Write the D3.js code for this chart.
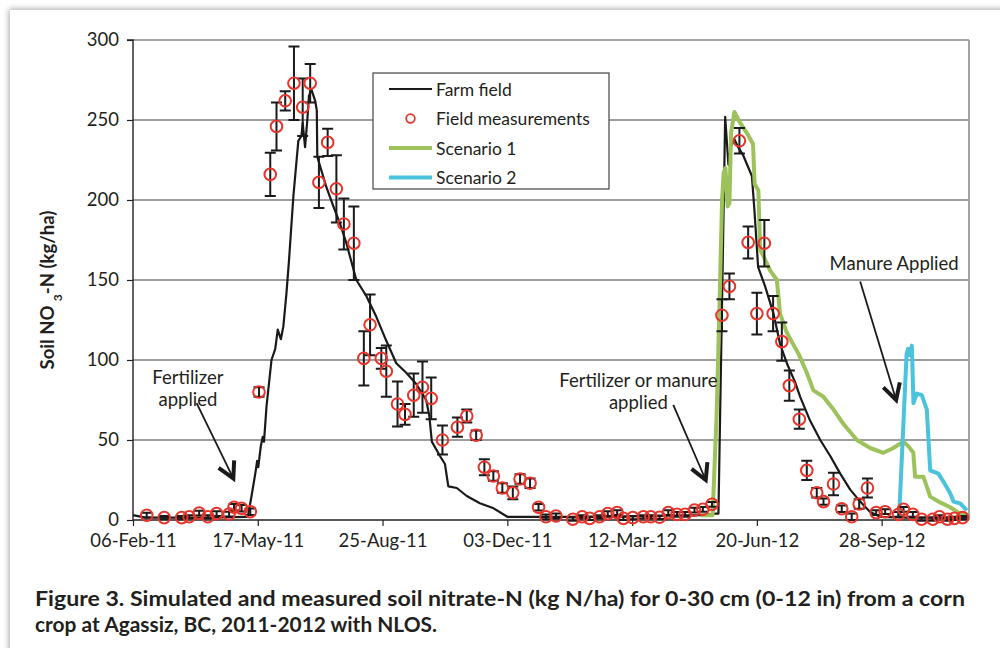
<!DOCTYPE html>
<html>
<head>
<meta charset="utf-8">
<script src="https://d3js.org/d3.v7.min.js"></script>
<style>
  body { margin: 0; background: #fff; overflow: hidden; }
  #card {
    position: absolute; left: 10px; top: 10px;
    width: 1100px; height: 700px; background: #fff;
    box-shadow: -1px -1px 6px rgba(0,0,0,0.35);
  }
  svg { position: absolute; left: 0; top: 0; font-family: Lato, sans-serif; }
</style>
</head>
<body>
<div id="card"></div>
<svg width="1000" height="648"></svg>
<script>

// days are counted from 06-Feb-11
var xTickLabels = ["06-Feb-11", "17-May-11", "25-Aug-11", "03-Dec-11", "12-Mar-12", "20-Jun-12", "28-Sep-12"];
var yTicks = [0, 50, 100, 150, 200, 250, 300];

var farmField = [
  [0,3],[10,1.5],[60,1.5],[90,2],[92,2],[95,15],[98,29],[99.5,37],[100.4,33],[102.4,46],
  [104,52],[105,49],[107,71],[111,100],[114,107],[116,119],[118.5,113],[120.5,121],[123,142],
  [125,162],[128.5,202],[132.5,237],[135,240],[136,248],[137.9,233],[139.7,250],[141,265],
  [143,269],[146,262],[147.3,256],[147.7,227],[150,221],[155,208],[160.6,196],[166,185],
  [171,173],[179,150],[187,140],[195,127],[203,112],[211,98],[219,92],[227,85],[235,75],
  [237.5,65],[239.5,49],[246,40],[250,35],[252.7,21],[259.5,20],[267.5,15],[278,10.5],
  [289,7.3],[300,2],[324,2],[374,2],[455,3],[467,4],[469.2,4],[474.6,252],[477.2,222],
  [479,233],[482,238],[485,233],[489,228],[496,215],[498,194],[501,158],[506.6,146],
  [513.3,129],[518.6,110],[524,98],[530.7,86],[534.7,77],[542.7,62],[550.8,50],[558.8,40],
  [566.8,29],[574.8,19],[582.8,11.5],[590.8,5],[598.8,2],[620,1.5],[669,1.5]
];

// [day, value, +/- error]
var measurements = [
  [11,3,1.5],[25,1.5,1],[39,1.5,1],[45,2,1],[53,4.3,1.5],[60,2,1],[67,4,1.5],[77,3.7,1.5],
  [81,8,2],[87,7.3,2],[94,5.2,2],[101,80,3],[110,216,13.5],[115,246,15],[122,262,6],
  [129,273,23],[136,258,18],[142,273,12],[149,211,16],[156,236,8.5],[163,207,21],[169,185,16],
  [177,173,23],[185,101,17],[190,122,19],[199,101,6.5],[203,93,16],[212,72.5,14],[218,66,6.5],
  [225,78,13.5],[232,83,16],[239,76,13],[248,50,9],[260,58,6],[267.5,65,4],[275,53,3],
  [281.6,33,5],[288.8,27.5,3],[296,20,3],[304.4,17,4],[310.2,25.6,3],[318.2,23,3],[325,8,2],
  [331,2,1.5],[339,2.5,1.5],[352.5,0.5,1],[360,2,1],[366,1,1],[374,2,1],[380.5,4,1.5],
  [388,4.6,1.5],[393,1,1],[400.6,1.5,1],[409,2,1],[415,2,1],[422,1.7,1],[429,4.6,1.5],
  [436,3.5,1.5],[442.5,3.5,1.5],[450,6.2,1.5],[456.7,6.7,1.5],[464,9.8,1.5],[472,128,10],
  [478,146,8],[486,237,8],[493,173.5,10],[500,129,13],[506,173,14.5],[513,129,11],
  [520,111.5,12],[526,84,9.5],[534,63,6],[540,31,6],[548,17,3],[553.4,11.5,2],[561.4,22.5,7],
  [568,7,2],[576,2,2],[582,10,3],[588.6,20,6],[595.6,4.6,1.5],[602.8,5.2,1.5],[613.5,3.5,1.5],
  [617.5,6.7,1.5],[625,3.5,1.5],[632,0.5,1],[641,0.5,1],[646.3,2,1],[652.7,0.5,1],
  [658.3,1,1],[664.8,1.5,1]
];

var scenario1 = [
  [455,3],[464.5,3],[467.7,65],[469.9,129],[472.1,200],[473.4,217],[474.8,220],[476.6,196],
  [478,198],[479.3,242],[482,255],[486,249],[491.9,242],[496.9,235],[498.2,210],[501.2,206],
  [502.6,169],[505.2,165],[510.6,156],[516,150],[518.6,129],[524,117],[533.3,104],[540,92],
  [545.3,81],[553.3,77],[561.4,69],[569.4,60],[580.1,50],[590.8,45],[601.4,42],[609.4,45],
  [617.5,49],[621.5,46],[625.4,42],[626.8,27],[633.5,27],[638.9,14.6],[646.9,11],[654.9,8],
  [662.9,4],[669.3,3]
];

var scenario2 = [
  [614,2],[620,104],[621.2,107],[622.6,103],[624.2,109],[625.5,73],[628.2,79],[632.2,78],
  [636.2,69],[638.9,31],[645.5,29],[649.5,24],[654.9,16.7],[657.6,11.5],[662.9,10.4],[668.3,6]
];

var legendItems = ["Farm field", "Field measurements", "Scenario 1", "Scenario 2"];

// annotation text and arrows, in [day, value]
var notes = [
  {lines: ["Fertilizer", "applied"], at: [44, 85], from: [51, 73], to: [80.4, 26]},
  {lines: ["Fertilizer or manure", "applied"], at: [405, 83], from: [433, 72], to: [459, 25]},
  {lines: ["Manure Applied"], at: [610, 156], from: [582.8, 149], to: [611.6, 75]}
];

var caption = ["Figure 3. Simulated and measured soil nitrate-N (kg N/ha) for 0-30 cm (0-12 in) from a corn",
               "crop at Agassiz, BC, 2011-2012 with NLOS."];

var svg = d3.select("svg"),
    margin = {top: 40, left: 133, right: 969, bottom: 520};

var parse = d3.utcParse("%d-%b-%y");
var start = parse(xTickLabels[0]);
var day = d => start.getTime() + d * 864e5;

var x = d3.scaleUtc()
    .domain([start, new Date(day(670))])
    .range([margin.left, margin.right]);

var y = d3.scaleLinear()
    .domain([0, 300])
    .range([margin.bottom, margin.top]);

var X = d => x(new Date(day(d)));

var green = "#9dc15b", cyan = "#4cc3dc", red = "#e8342b", ink = "#231f20";

//
// grid and frame
//

svg.append("g")
    .selectAll("line")
    .data(yTicks.slice(1, -1))
    .enter().append("line")
    .attr("x1", margin.left).attr("x2", margin.right)
    .attr("y1", d => y(d)).attr("y2", d => y(d))
    .attr("stroke", "#3c3c3c").attr("stroke-width", 1);

svg.append("line")
    .attr("x1", margin.left).attr("x2", margin.right)
    .attr("y1", y(300)).attr("y2", y(300))
    .attr("stroke", "#a3a3a3").attr("stroke-width", 2);

svg.append("line")
    .attr("x1", margin.right).attr("x2", margin.right)
    .attr("y1", y(300)).attr("y2", y(0))
    .attr("stroke", "#a3a3a3").attr("stroke-width", 2);

//
// axes
//

var yAxis = svg.append("g")
    .attr("transform", "translate(" + margin.left + ",0)")
    .call(d3.axisLeft(y).tickValues(yTicks).tickSize(6).tickPadding(8));

var xAxis = svg.append("g")
    .attr("transform", "translate(0," + margin.bottom + ")")
    .call(d3.axisBottom(x)
        .tickValues(xTickLabels.map(parse))
        .tickFormat(d3.utcFormat("%d-%b-%y"))
        .tickSize(6).tickPadding(8));

svg.selectAll(".domain").attr("stroke", "#222").attr("stroke-width", 1.4);
svg.selectAll(".tick line").attr("stroke", "#222").attr("stroke-width", 1.2);
svg.selectAll(".tick text")
    .attr("fill", ink)
    .style("font-family", "Lato, sans-serif")
    .style("font-size", "18.5px");

yAxis.select(".domain").attr("d", "M-6," + y(300) + "H0V" + y(0));
xAxis.select(".domain").attr("d", "M" + margin.left + ",0H" + margin.right);

svg.append("text")
    .attr("transform", "translate(54,290) rotate(-90)")
    .attr("text-anchor", "middle")
    .attr("fill", ink)
    .style("font-size", "18.5px")
    .style("font-weight", "bold")
    .call(t => {
        t.append("tspan").text("Soil NO ");
        t.append("tspan").text("3").attr("baseline-shift", "sub").style("font-size", "12px");
        t.append("tspan").text("-N (kg/ha)");
    });

//
// series
//

var line = d3.line().x(d => X(d[0])).y(d => y(d[1]));

svg.append("path")
    .datum(farmField)
    .attr("d", line)
    .attr("fill", "none")
    .attr("stroke", "#1a1a1a")
    .attr("stroke-width", 2.2)
    .attr("stroke-linejoin", "round");

svg.append("path")
    .datum(scenario1)
    .attr("d", line)
    .attr("fill", "none")
    .attr("stroke", green)
    .attr("stroke-width", 4)
    .attr("stroke-linejoin", "round");

svg.append("path")
    .datum(scenario2)
    .attr("d", line)
    .attr("fill", "none")
    .attr("stroke", cyan)
    .attr("stroke-width", 4)
    .attr("stroke-linejoin", "round");

svg.append("g")
    .attr("stroke", "#1a1a1a")
    .attr("stroke-width", 2)
    .selectAll("path")
    .data(measurements)
    .enter().append("path")
    .attr("fill", "none")
    .attr("d", d => {
        var cx = X(d[0]), t = y(d[1] + d[2]), b = y(d[1] - d[2]);
        return "M" + cx + "," + t + "V" + b +
               "M" + (cx - 5.5) + "," + t + "h11" +
               "M" + (cx - 5.5) + "," + b + "h11";
    });

svg.append("g")
    .selectAll("circle")
    .data(measurements)
    .enter().append("circle")
    .attr("cx", d => X(d[0]))
    .attr("cy", d => y(d[1]))
    .attr("r", 5.8)
    .attr("fill", "none")
    .attr("stroke", red)
    .attr("stroke-width", 2);

//
// annotations
//

notes.forEach(n => {
    var x0 = X(n.from[0]), y0 = y(n.from[1]), x1 = X(n.to[0]), y1 = y(n.to[1]);
    var a = Math.atan2(y1 - y0, x1 - x0), len = 18, sp = 0.5;

    svg.append("line")
        .attr("x1", x0).attr("y1", y0).attr("x2", x1).attr("y2", y1)
        .attr("stroke", "#1a1a1a").attr("stroke-width", 1.8);

    svg.append("path")
        .attr("d", "M" + (x1 - len * Math.cos(a - sp)) + "," + (y1 - len * Math.sin(a - sp)) +
                   "L" + x1 + "," + y1 +
                   "L" + (x1 - len * Math.cos(a + sp)) + "," + (y1 - len * Math.sin(a + sp)))
        .attr("fill", "none")
        .attr("stroke", "#1a1a1a")
        .attr("stroke-width", 4)
        .attr("stroke-linejoin", "miter");

    n.lines.forEach((s, i) => {
        svg.append("text")
            .attr("x", X(n.at[0]))
            .attr("y", y(n.at[1]) + i * 22)
            .attr("text-anchor", "middle")
            .attr("fill", ink)
            .style("font-size", "18.5px")
            .text(s);
    });
});

//
// legend
//

var legend = svg.append("g").attr("transform", "translate(373,73)");

legend.append("rect")
    .attr("width", 236).attr("height", 116)
    .attr("fill", "#fff")
    .attr("stroke", "#444").attr("stroke-width", 1.2);

legendItems.forEach((name, i) => {
    var cy = 16 + i * 29.5;
    if (i == 1) {
        legend.append("circle")
            .attr("cx", 37.5).attr("cy", cy).attr("r", 4.3)
            .attr("fill", "none").attr("stroke", red).attr("stroke-width", 1.8);
    } else {
        legend.append("line")
            .attr("x1", 16).attr("x2", 59).attr("y1", cy).attr("y2", cy)
            .attr("stroke", [ "#1a1a1a", null, green, cyan ][i])
            .attr("stroke-width", i == 0 ? 2 : 4);
    }
    legend.append("text")
        .attr("x", 63).attr("y", cy + 6.5)
        .attr("fill", ink)
        .style("font-size", "17.5px")
        .text(name);
});

//
// caption
//

caption.forEach((s, i) => {
    svg.append("text")
        .attr("x", 35)
        .attr("y", 606 + i * 26)
        .attr("fill", ink)
        .attr("textLength", i == 0 ? 930 : 402)
        .attr("lengthAdjust", "spacingAndGlyphs")
        .style("font-size", "20px")
        .style("font-weight", "bold")
        .text(s);
});

</script>
</body>
</html>
